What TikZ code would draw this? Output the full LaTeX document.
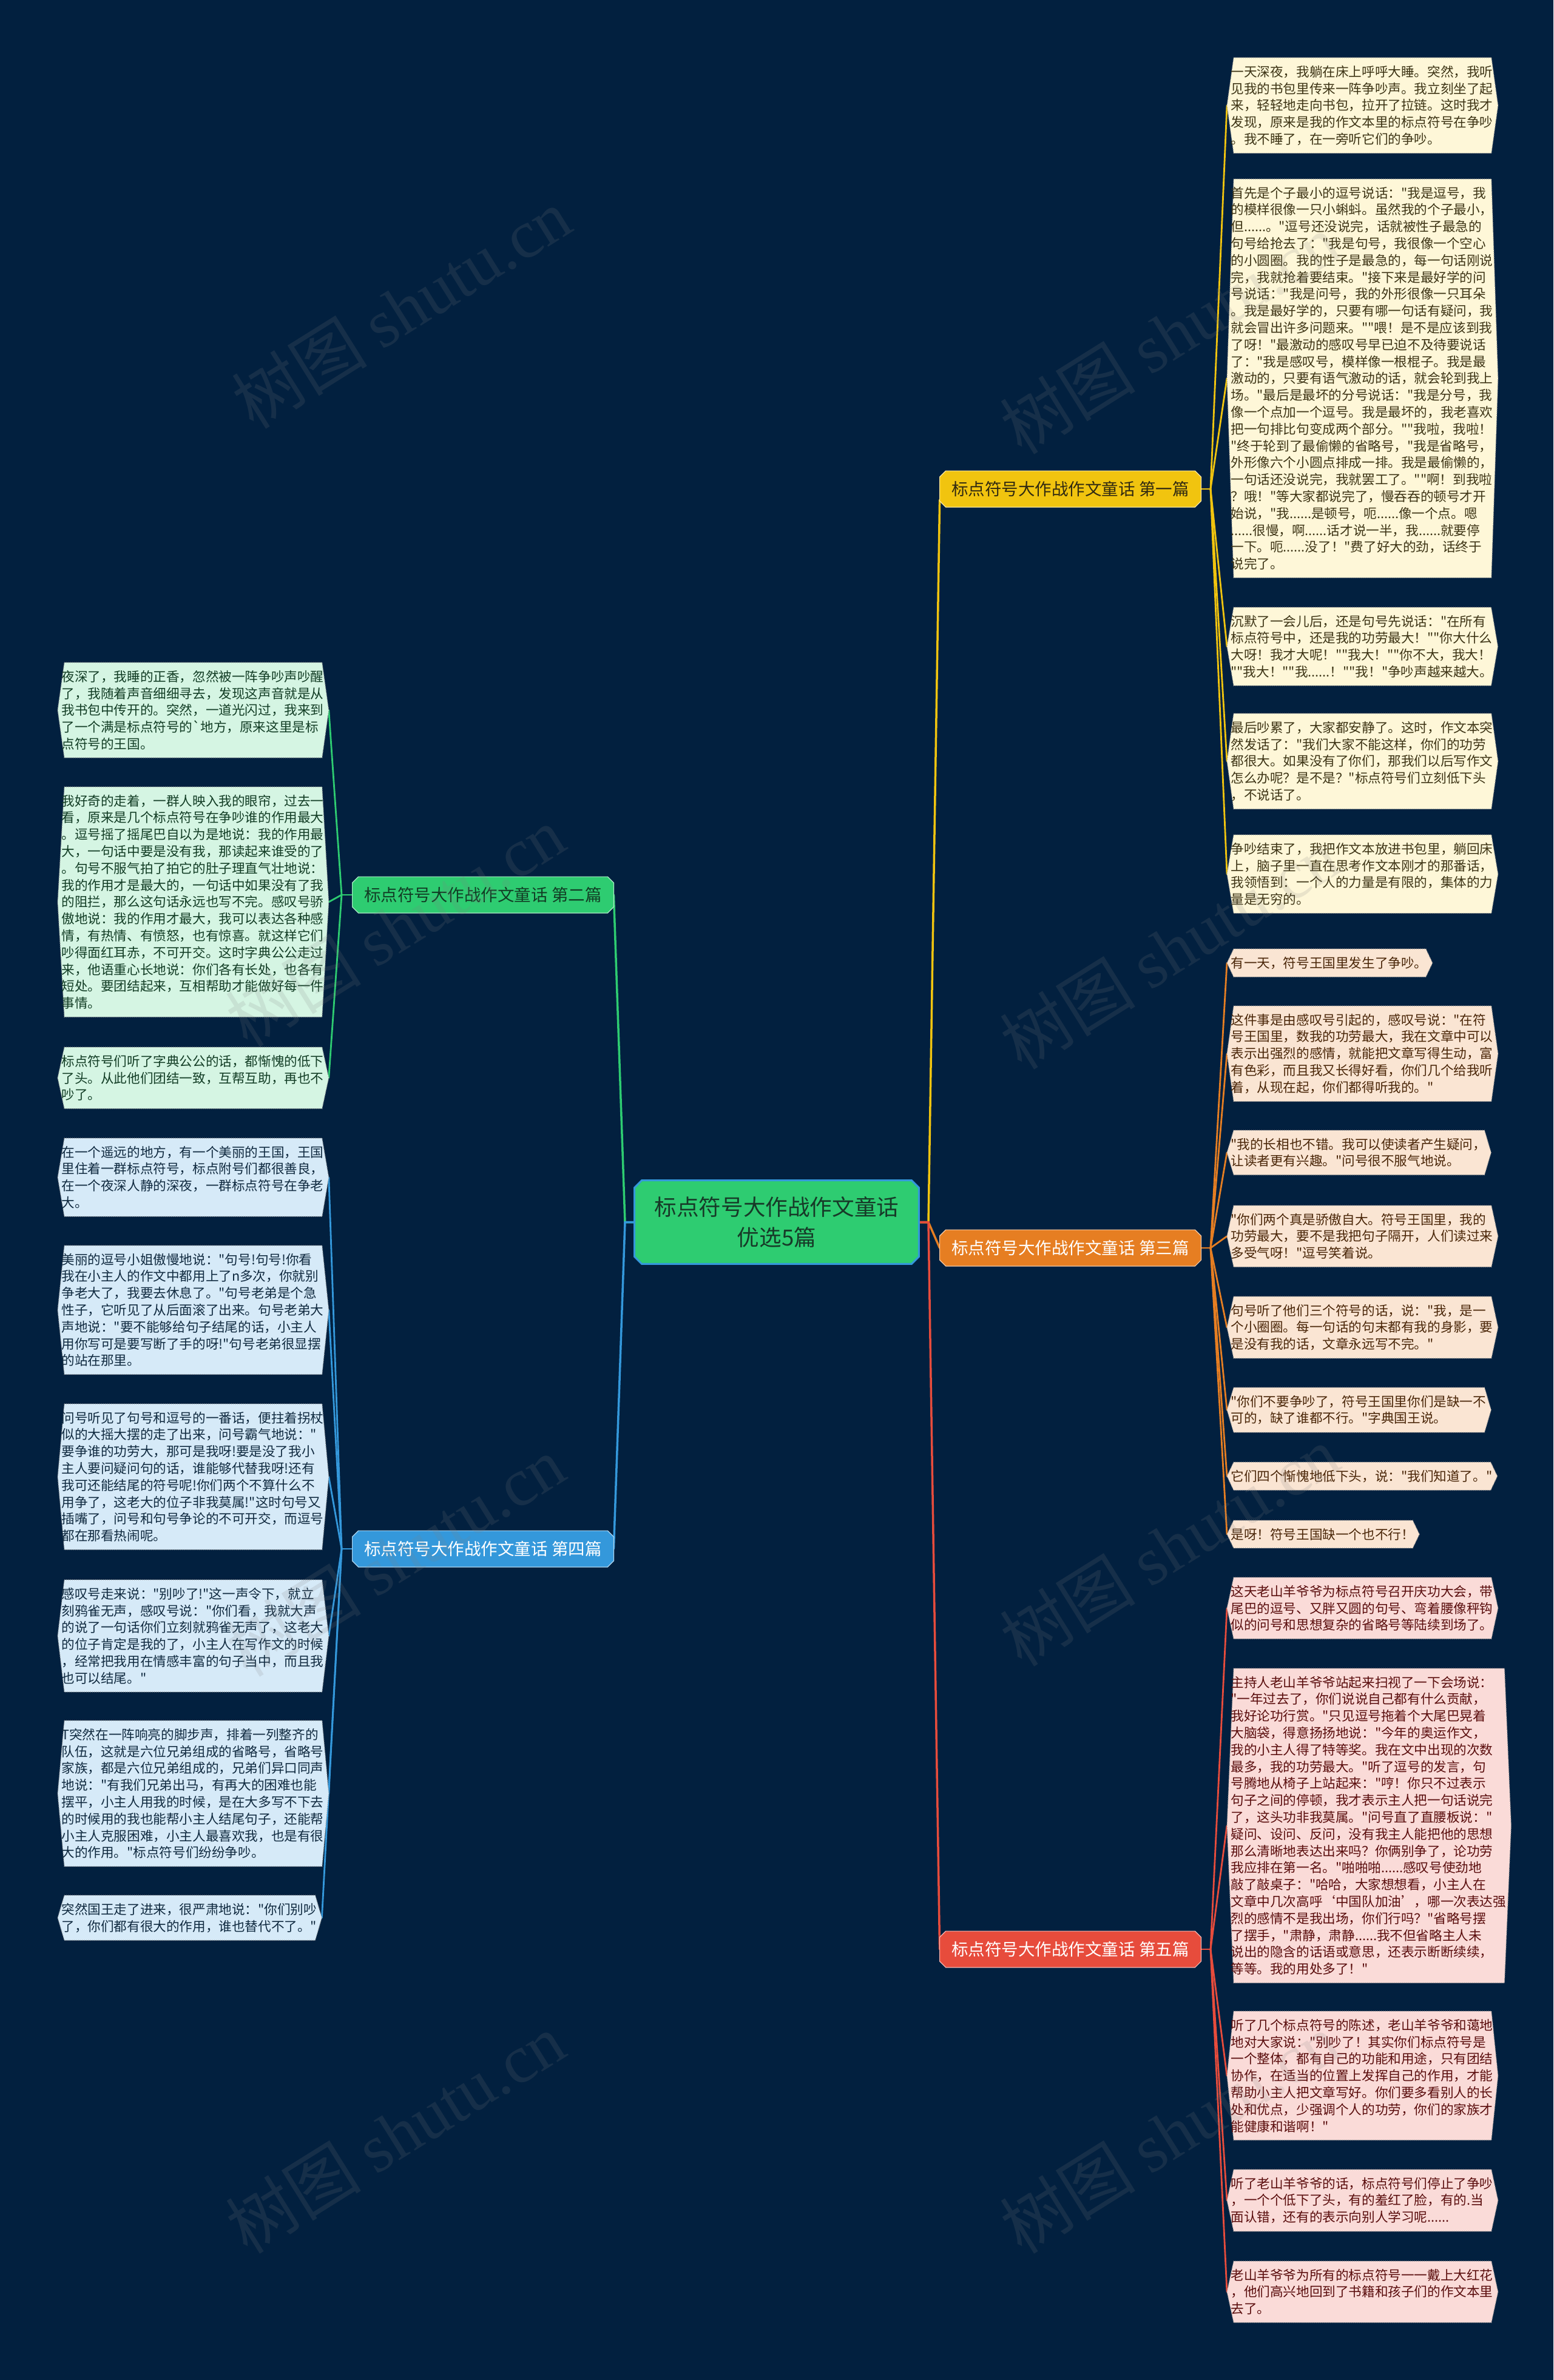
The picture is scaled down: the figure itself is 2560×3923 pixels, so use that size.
\documentclass[tikz,border=0pt]{standalone}
\usepackage{fontspec}
\setmainfont{Noto Sans CJK SC}
\newfontfamily\cjk{Noto Sans CJK SC}
\newfontfamily\wmfont{Liberation Serif}
\usetikzlibrary{calc,backgrounds}
\definecolor{bgc}{HTML}{02203F}
\definecolor{c1}{HTML}{F1C40F}\definecolor{f1}{HTML}{FEF7D8}\definecolor{t1}{HTML}{3D3415}
\definecolor{c2}{HTML}{2ECC71}\definecolor{f2}{HTML}{D5F5E3}\definecolor{t2}{HTML}{123D25}
\definecolor{c3}{HTML}{E67E22}\definecolor{f3}{HTML}{FAE5D3}\definecolor{t3}{HTML}{4A2608}
\definecolor{c4}{HTML}{3498DB}\definecolor{f4}{HTML}{D6EAF8}\definecolor{t4}{HTML}{102A40}
\definecolor{c5}{HTML}{E74C3C}\definecolor{f5}{HTML}{FADBD8}\definecolor{t5}{HTML}{5A0D0D}
\definecolor{ctext}{HTML}{173A28}
\newcommand{\leaffont}{\cjk\fontsize{10.8pt}{13.9pt}\selectfont}
\newcommand{\brfont}{\cjk\fontsize{13.75pt}{16pt}\selectfont}
\newcommand{\cfont}{\cjk\fontsize{18.3pt}{25pt}\selectfont}
\newcommand{\leafshape}[2]{\path[#2] ($(#1.north west)+(5,0)$) -- ($(#1.north east)+(-3,0)$) -- ($(#1.east)+(8,0)$) -- ($(#1.south east)+(-3,0)$) -- ($(#1.south west)+(5,0)$) -- ($(#1.west)+(-6,0)$) -- cycle;}
\newcommand{\octo}[3]{\path[#3] ($(#1.north west)+(#2,0)$) -- ($(#1.north east)+(-#2,0)$) -- ($(#1.north east)+(0,#2)$) -- ($(#1.south east)+(0,-#2)$) -- ($(#1.south east)+(-#2,0)$) -- ($(#1.south west)+(#2,0)$) -- ($(#1.south west)+(0,-#2)$) -- ($(#1.north west)+(0,#2)$) -- cycle;}
\begin{document}
\begin{tikzpicture}[x=0.5pt,y=-0.5pt,
  leaf/.style={anchor=north west, inner xsep=0pt, inner ysep=6.25pt, align=left, font=\leaffont},
  branch/.style={minimum width=215pt, minimum height=29.5pt, inner sep=0pt, font=\brfont},
  mainl/.style={line width=1.75pt, line cap=round},
  leafl/.style={line width=1.4pt, line cap=round},
  wm/.style={rotate=32, text=gray, opacity=0.16, font=\cjk\fontsize{56pt}{60pt}\selectfont}
]
\useasboundingbox (0,0) rectangle (2560,3923);
% center
\node[minimum width=234pt, minimum height=68.5pt, inner sep=0pt, align=center, font=\cfont, text=ctext] (C) at (1280,2014.5) {标点符号大作战作文童话\\优选5篇};
% branch labels
\node[branch, text=t1!80!black] (B1) at (1764,806) {标点符号大作战作文童话 第一篇};
\node[branch, text=t2] (B2) at (796,1475) {标点符号大作战作文童话 第二篇};
\node[branch, text=white] (B3) at (1764,2057) {标点符号大作战作文童话 第三篇};
\node[branch, text=white] (B4) at (796,2553) {标点符号大作战作文童话 第四篇};
\node[branch, text=white] (B5) at (1764,3213) {标点符号大作战作文童话 第五篇};
\coordinate (cr) at (1530,2014.5);
\coordinate (cl) at (1030,2014.5);
\coordinate (s1) at (1995,806);
\coordinate (s3) at (1995,2057);
\coordinate (s5) at (1995,3213);
\coordinate (s2) at (563,1475);
\coordinate (s4) at (563,2553);
% ---------- branch 1 leaves
\node[leaf, text=t1] (a1) at (2028,95) {一天深夜，我躺在床上呼呼大睡。突然，我听\\见我的书包里传来一阵争吵声。我立刻坐了起\\来，轻轻地走向书包，拉开了拉链。这时我才\\发现，原来是我的作文本里的标点符号在争吵\\。我不睡了，在一旁听它们的争吵。};
\node[leaf, text=t1] (a2) at (2028,295) {首先是个子最小的逗号说话："我是逗号，我\\的模样很像一只小蝌蚪。虽然我的个子最小，\\但......。"逗号还没说完，话就被性子最急的\\句号给抢去了："我是句号，我很像一个空心\\的小圆圈。我的性子是最急的，每一句话刚说\\完，我就抢着要结束。"接下来是最好学的问\\号说话："我是问号，我的外形很像一只耳朵\\。我是最好学的，只要有哪一句话有疑问，我\\就会冒出许多问题来。""喂！是不是应该到我\\了呀！"最激动的感叹号早已迫不及待要说话\\了："我是感叹号，模样像一根棍子。我是最\\激动的，只要有语气激动的话，就会轮到我上\\场。"最后是最坏的分号说话："我是分号，我\\像一个点加一个逗号。我是最坏的，我老喜欢\\把一句排比句变成两个部分。""我啦，我啦！\\"终于轮到了最偷懒的省略号，"我是省略号，\\外形像六个小圆点排成一排。我是最偷懒的，\\一句话还没说完，我就罢工了。""啊！到我啦\\？哦！"等大家都说完了，慢吞吞的顿号才开\\始说，"我......是顿号，呃......像一个点。嗯\\......很慢，啊......话才说一半，我......就要停\\一下。呃......没了！"费了好大的劲，话终于\\说完了。};
\node[leaf, text=t1] (a3) at (2028,1001) {沉默了一会儿后，还是句号先说话："在所有\\标点符号中，还是我的功劳最大！""你大什么\\大呀！我才大呢！""我大！""你不大，我大！\\""我大！""我......！""我！"争吵声越来越大。};
\node[leaf, text=t1] (a4) at (2028,1176) {最后吵累了，大家都安静了。这时，作文本突\\然发话了："我们大家不能这样，你们的功劳\\都很大。如果没有了你们，那我们以后写作文\\怎么办呢？是不是？"标点符号们立刻低下头\\，不说话了。};
\node[leaf, text=t1] (a5) at (2028,1376) {争吵结束了，我把作文本放进书包里，躺回床\\上，脑子里一直在思考作文本刚才的那番话，\\我领悟到：一个人的力量是有限的，集体的力\\量是无穷的。};
% ---------- branch 2 leaves
\node[leaf, text=t2] (b1) at (101,1092) {夜深了，我睡的正香，忽然被一阵争吵声吵醒\\了，我随着声音细细寻去，发现这声音就是从\\我书包中传开的。突然，一道光闪过，我来到\\了一个满是标点符号的\textasciigrave 地方，原来这里是标\\点符号的王国。};
\node[leaf, text=t2] (b2) at (101,1297) {我好奇的走着，一群人映入我的眼帘，过去一\\看，原来是几个标点符号在争吵谁的作用最大\\。逗号摇了摇尾巴自以为是地说：我的作用最\\大，一句话中要是没有我，那读起来谁受的了\\。句号不服气拍了拍它的肚子理直气壮地说：\\我的作用才是最大的，一句话中如果没有了我\\的阻拦，那么这句话永远也写不完。感叹号骄\\傲地说：我的作用才最大，我可以表达各种感\\情，有热情、有愤怒，也有惊喜。就这样它们\\吵得面红耳赤，不可开交。这时字典公公走过\\来，他语重心长地说：你们各有长处，也各有\\短处。要团结起来，互相帮助才能做好每一件\\事情。};
\node[leaf, text=t2] (b3) at (101,1726) {标点符号们听了字典公公的话，都惭愧的低下\\了头。从此他们团结一致，互帮互助，再也不\\吵了。};
% ---------- branch 3 leaves
\node[leaf, text=t3] (c1) at (2028,1564) {有一天，符号王国里发生了争吵。};
\node[leaf, text=t3] (c2) at (2028,1658) {这件事是由感叹号引起的，感叹号说："在符\\号王国里，数我的功劳最大，我在文章中可以\\表示出强烈的感情，就能把文章写得生动，富\\有色彩，而且我又长得好看，你们几个给我听\\着，从现在起，你们都得听我的。"};
\node[leaf, text=t3] (c3) at (2028,1863) {"我的长相也不错。我可以使读者产生疑问，\\让读者更有兴趣。"问号很不服气地说。};
\node[leaf, text=t3] (c4) at (2028,1987) {"你们两个真是骄傲自大。符号王国里，我的\\功劳最大，要不是我把句子隔开，人们读过来\\多受气呀！"逗号笑着说。};
\node[leaf, text=t3] (c5) at (2028,2137) {句号听了他们三个符号的话，说："我，是一\\个小圈圈。每一句话的句末都有我的身影，要\\是没有我的话，文章永远写不完。"};
\node[leaf, text=t3] (c6) at (2028,2287) {"你们不要争吵了，符号王国里你们是缺一不\\可的，缺了谁都不行。"字典国王说。};
\node[leaf, text=t3] (c7) at (2028,2410) {它们四个惭愧地低下头，说："我们知道了。"};
\node[leaf, text=t3] (c8) at (2028,2506) {是呀！符号王国缺一个也不行！};
% ---------- branch 4 leaves
\node[leaf, text=t4] (d1) at (101,1876) {在一个遥远的地方，有一个美丽的王国，王国\\里住着一群标点符号，标点附号们都很善良，\\在一个夜深人静的深夜，一群标点符号在争老\\大。};
\node[leaf, text=t4] (d2) at (101,2053) {美丽的逗号小姐傲慢地说："句号!句号!你看\\我在小主人的作文中都用上了n多次，你就别\\争老大了，我要去休息了。"句号老弟是个急\\性子，它听见了从后面滚了出来。句号老弟大\\声地说："要不能够给句子结尾的话，小主人\\用你写可是要写断了手的呀!"句号老弟很显摆\\的站在那里。};
\node[leaf, text=t4] (d3) at (101,2314) {问号听见了句号和逗号的一番话，便拄着拐杖\\似的大摇大摆的走了出来，问号霸气地说："\\要争谁的功劳大，那可是我呀!要是没了我小\\主人要问疑问句的话，谁能够代替我呀!还有\\我可还能结尾的符号呢!你们两个不算什么不\\用争了，这老大的位子非我莫属!"这时句号又\\插嘴了，问号和句号争论的不可开交，而逗号\\都在那看热闹呢。};
\node[leaf, text=t4] (d4) at (101,2604) {感叹号走来说："别吵了!"这一声令下，就立\\刻鸦雀无声，感叹号说："你们看，我就大声\\的说了一句话你们立刻就鸦雀无声了，这老大\\的位子肯定是我的了，小主人在写作文的时候\\，经常把我用在情感丰富的句子当中，而且我\\也可以结尾。"};
\node[leaf, text=t4] (d5) at (101,2836) {T突然在一阵响亮的脚步声，排着一列整齐的\\队伍，这就是六位兄弟组成的省略号，省略号\\家族，都是六位兄弟组成的，兄弟们异口同声\\地说："有我们兄弟出马，有再大的困难也能\\摆平，小主人用我的时候，是在大多写不下去\\的时候用的我也能帮小主人结尾句子，还能帮\\小主人克服困难，小主人最喜欢我，也是有很\\大的作用。"标点符号们纷纷争吵。};
\node[leaf, text=t4] (d6) at (101,3124) {突然国王走了进来，很严肃地说："你们别吵\\了，你们都有很大的作用，谁也替代不了。"};
% ---------- branch 5 leaves
\node[leaf, text=t5] (e1) at (2028,2600) {这天老山羊爷爷为标点符号召开庆功大会，带\\尾巴的逗号、又胖又圆的句号、弯着腰像秤钩\\似的问号和思想复杂的省略号等陆续到场了。};
\node[leaf, text=t5] (e2) at (2028,2750) {主持人老山羊爷爷站起来扫视了一下会场说：\\"一年过去了，你们说说自己都有什么贡献，\\我好论功行赏。"只见逗号拖着个大尾巴晃着\\大脑袋，得意扬扬地说："今年的奥运作文，\\我的小主人得了特等奖。我在文中出现的次数\\最多，我的功劳最大。"听了逗号的发言，句\\号腾地从椅子上站起来："哼！你只不过表示\\句子之间的停顿，我才表示主人把一句话说完\\了，这头功非我莫属。"问号直了直腰板说："\\疑问、设问、反问，没有我主人能把他的思想\\那么清晰地表达出来吗？你俩别争了，论功劳\\我应排在第一名。"啪啪啪......感叹号使劲地\\敲了敲桌子："哈哈，大家想想看，小主人在\\文章中几次高呼‘中国队加油’，哪一次表达强\\烈的感情不是我出场，你们行吗？"省略号摆\\了摆手，"肃静，肃静......我不但省略主人未\\说出的隐含的话语或意思，还表示断断续续，\\等等。我的用处多了！"};
\node[leaf, text=t5] (e3) at (2028,3315) {听了几个标点符号的陈述，老山羊爷爷和蔼地\\地对大家说："别吵了！其实你们标点符号是\\一个整体，都有自己的功能和用途，只有团结\\协作，在适当的位置上发挥自己的作用，才能\\帮助小主人把文章写好。你们要多看别人的长\\处和优点，少强调个人的功劳，你们的家族才\\能健康和谐啊！"};
\node[leaf, text=t5] (e4) at (2028,3576) {听了老山羊爷爷的话，标点符号们停止了争吵\\，一个个低下了头，有的羞红了脸，有的.当\\面认错，还有的表示向别人学习呢......};
\node[leaf, text=t5] (e5) at (2028,3727) {老山羊爷爷为所有的标点符号一一戴上大红花\\，他们高兴地回到了书籍和孩子们的作文本里\\去了。};
% ---------- background: lines and shapes
\begin{scope}[on background layer]
\fill[bgc] (0,0) rectangle (2560,3923);
% center to branches
\draw[mainl, c1] (C.east) -- (cr) -- ($(B1.west)+(0,18)$);
\draw[mainl, c3] (C.east) -- (cr) -- (B3.west);
\draw[mainl, c5] (C.east) -- (cr) -- (B5.west);
\draw[mainl, c2] (C.west) -- (cl) -- (B2.east);
\draw[mainl, c4] (C.west) -- (cl) -- (B4.east);
% branch stubs
\draw[leafl, c1] (B1.east) -- (s1);
\draw[leafl, c3] (B3.east) -- (s3);
\draw[leafl, c5] (B5.east) -- (s5);
\draw[leafl, c2] (B2.west) -- (s2);
\draw[leafl, c4] (B4.west) -- (s4);
% leaf connectors
\foreach \n in {a1,a2,a3,a4,a5} \draw[leafl, c1] (s1) -- ($(\n.west)+(-6,0)$);
\foreach \n in {c1,c2,c3,c4,c5,c6,c7,c8} \draw[leafl, c3] (s3) -- ($(\n.west)+(-6,0)$);
\foreach \n in {e1,e2,e3,e4,e5} \draw[leafl, c5] (s5) -- ($(\n.west)+(-6,0)$);
\foreach \n in {b1,b2,b3} \draw[leafl, c2] (s2) -- ($(\n.east)+(8,0)$);
\foreach \n in {d1,d2,d3,d4,d5,d6} \draw[leafl, c4] (s4) -- ($(\n.east)+(8,0)$);
% shapes
\octo{C}{12}{fill=c2, draw=c4, line width=1.5pt}
\octo{B1}{10}{fill=c1, draw=c1!40!white, line width=0.6pt}
\octo{B2}{10}{fill=c2, draw=c2!40!white, line width=0.6pt}
\octo{B3}{10}{fill=c3, draw=c3!40!white, line width=0.6pt}
\octo{B4}{10}{fill=c4, draw=c4!40!white, line width=0.6pt}
\octo{B5}{10}{fill=c5, draw=c5!40!white, line width=0.6pt}
\foreach \n in {a1,a2,a3,a4,a5} {\leafshape{\n}{fill=f1, draw=black!45, densely dotted, line width=0.6pt}}
\foreach \n in {b1,b2,b3} {\leafshape{\n}{fill=f2, draw=black!45, densely dotted, line width=0.6pt}}
\foreach \n in {c1,c2,c3,c4,c5,c6,c7,c8} {\leafshape{\n}{fill=f3, draw=black!45, densely dotted, line width=0.6pt}}
\foreach \n in {d1,d2,d3,d4,d5,d6} {\leafshape{\n}{fill=f4, draw=black!45, densely dotted, line width=0.6pt}}
\foreach \n in {e1,e2,e3,e4,e5} {\leafshape{\n}{fill=f5, draw=black!45, densely dotted, line width=0.6pt}}
\end{scope}
% watermarks
\node[wm] (w1) at (661,508) {树图 {\wmfont shutu.cn}};
\node[wm] (w2) at (1927,550) {树图 {\wmfont shutu.cn}};
\node[wm] (w3) at (651,1527) {树图 {\wmfont shutu.cn}};
\node[wm] (w4) at (1927,1564) {树图 {\wmfont shutu.cn}};
\node[wm] (w5) at (651,2565) {树图 {\wmfont shutu.cn}};
\node[wm] (w6) at (1927,2548) {树图 {\wmfont shutu.cn}};
\node[wm] (w7) at (651,3516) {树图 {\wmfont shutu.cn}};
\node[wm] (w8) at (1927,3516) {树图 {\wmfont shutu.cn}};
\end{tikzpicture}
\end{document}
